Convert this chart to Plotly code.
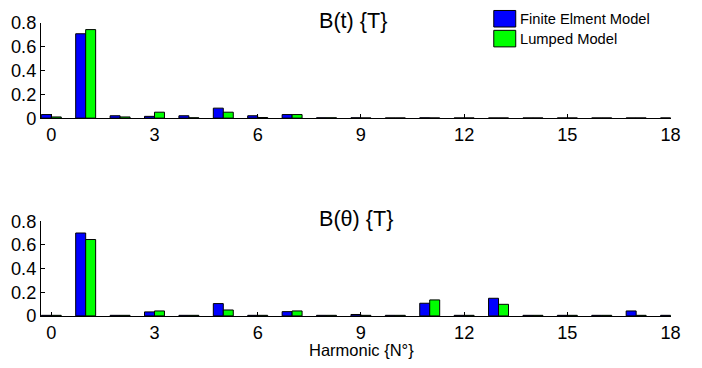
import plotly.graph_objects as go

harmonics = list(range(19))
bt_fem = [0.03, 0.71, 0.02, 0.015, 0.02, 0.084, 0.02, 0.03, 0.003, 0.003, 0.002, 0.003, 0.002, 0.002, 0.002, 0.002, 0.002, 0.002, 0.002]
bt_lumped = [0.01, 0.745, 0.01, 0.05, 0.003, 0.05, 0.005, 0.03, 0.003, 0.002, 0.002, 0.002, 0.002, 0.002, 0.002, 0.002, 0.002, 0.002, 0.002]
bth_fem = [0.005, 0.70, 0.005, 0.034, 0.005, 0.104, 0.005, 0.036, 0.005, 0.012, 0.005, 0.107, 0.005, 0.149, 0.005, 0.005, 0.005, 0.042, 0.005]
bth_lumped = [0.005, 0.645, 0.005, 0.042, 0.005, 0.05, 0.005, 0.042, 0.005, 0.005, 0.005, 0.135, 0.005, 0.098, 0.005, 0.005, 0.005, 0.005, 0.005]
series_names = ["Finite Elment Model", "Lumped Model"]
colors = ["#0000ff", "#00ff00"]
xticks = [0, 3, 6, 9, 12, 15, 18]
yticks = [0, 0.2, 0.4, 0.6, 0.8]
yticktext = ["0", "0.2", "0.4", "0.6", "0.8"]

FONT = "Liberation Sans, Arial, Helvetica, sans-serif"
W, H = 702, 368

# observed mapping of figure pixels into the returned picture
SX, OX = 0.987, 0.6
SY, OY = 0.948, 8.6


def px(x):
    return (x - OX) / SX / W


def fy(y):  # raw figure pixel -> paper
    return 1 - y / H


def py(y):  # reference pixel -> paper
    return fy((y - OY) / SY)


fig = go.Figure()
for vals, col, name in [(bt_fem, colors[0], series_names[0]), (bt_lumped, colors[1], series_names[1])]:
    fig.add_trace(go.Bar(x=harmonics, y=vals, marker=dict(color=col, line=dict(color="black", width=1)),
                         name=name, xaxis="x", yaxis="y", showlegend=False))
for vals, col, name in [(bth_fem, colors[0], series_names[0]), (bth_lumped, colors[1], series_names[1])]:
    fig.add_trace(go.Bar(x=harmonics, y=vals, marker=dict(color=col, line=dict(color="black", width=1)),
                         name=name, xaxis="x2", yaxis="y2", showlegend=False))

xd = [px(41.6), px(672)]
axis_common = dict(showline=True, linecolor="black", linewidth=1, ticks="inside", ticklen=4,
                   tickcolor="black", showgrid=False, zeroline=False,
                   tickfont=dict(family=FONT, size=18.2, color="black"))

fig.update_layout(
    width=W, height=H, margin=dict(l=0, r=0, t=0, b=0),
    paper_bgcolor="white", plot_bgcolor="white", showlegend=False,
    barmode="group", bargap=0.42, bargroupgap=0,
    xaxis=dict(domain=xd, range=[-0.3, 18], tickvals=xticks, anchor="y", **axis_common),
    yaxis=dict(domain=[py(117), py(21.7)], range=[0, 0.8], tickvals=yticks, ticktext=yticktext,
               anchor="x", **axis_common),
    xaxis2=dict(domain=xd, range=[-0.3, 18], tickvals=xticks, anchor="y2", **axis_common),
    yaxis2=dict(domain=[fy(323.5), fy(223.3)], range=[0, 0.8], tickvals=yticks, ticktext=yticktext,
                anchor="x2", **axis_common),
)

fig.add_annotation(text="B(t) {T}", x=px(354.5), y=py(19), xref="paper", yref="paper",
                   showarrow=False, xanchor="center", yanchor="middle",
                   font=dict(family=FONT, size=21.6, color="black"))
fig.add_annotation(text="B(θ) {T}", x=px(357), y=fy(221), xref="paper", yref="paper",
                   showarrow=False, xanchor="center", yanchor="middle",
                   font=dict(family=FONT, size=21.6, color="black"))
fig.add_annotation(text="Harmonic {N°}", x=px(363), y=fy(371), xref="paper", yref="paper",
                   showarrow=False, xanchor="center", yanchor="bottom",
                   font=dict(family=FONT, size=16.5, color="black"))

# manual legend (rows in raw figure pixels, as high as the page allows)
leg_rows = [(0.5, 18.0), (21.5, 39.0)]
for (y0, y1), col, name in zip(leg_rows, colors, series_names):
    fig.add_shape(type="rect", xref="paper", yref="paper", x0=px(495), x1=px(517),
                  y0=fy(y1), y1=fy(y0), fillcolor=col, line=dict(color="black", width=1))
    fig.add_annotation(text=name, x=px(519), y=fy((y0 + y1) / 2), xref="paper", yref="paper",
                       showarrow=False, xanchor="left", yanchor="middle",
                       font=dict(family=FONT, size=14.7, color="black"))

fig.write_html("out.html")
